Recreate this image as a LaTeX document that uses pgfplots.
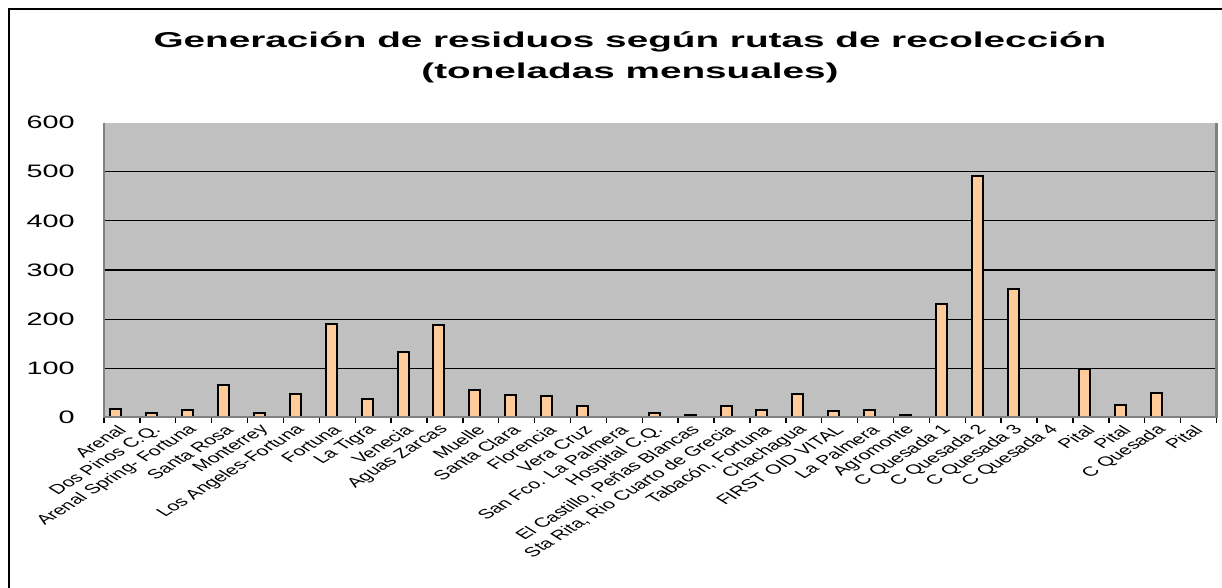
\documentclass[border=0pt]{standalone}
\usepackage{fontspec}
\setmainfont{Liberation Sans}
\newfontfamily\wide[FakeStretch=1.6]{Liberation Sans}
\newfontfamily\widetitle[FakeStretch=1.8]{Liberation Sans}
\usepackage{pgfplots}
\pgfplotsset{compat=1.18}
\definecolor{plotbg}{HTML}{C0C0C0}
\definecolor{barfill}{HTML}{FFCC99}
\definecolor{axgray}{HTML}{808080}
\begin{document}
\begin{tikzpicture}
\useasboundingbox (0,0) rectangle (611pt,294pt);
\fill[white] (0,0) rectangle (611pt,294pt);
\draw[black, line width=0.6pt] (4.5pt,0) -- (4.5pt,289.5pt) -- (611pt,289.5pt);
\node[anchor=base, font=\widetitle\bfseries\fontsize{10.75}{12}\selectfont, inner sep=0] at (315pt,270.15pt) {Generación de residuos según rutas de recolección};
\node[anchor=base, font=\widetitle\bfseries\fontsize{10.75}{12}\selectfont, inner sep=0] at (315pt,254.5pt) {(toneladas mensuales)};
\begin{axis}[
  at={(52pt,85.35pt)}, anchor=south west,
  scale only axis, width=556.25pt, height=147.3pt,
  xmin=-0.5, xmax=30.5, ymin=0, ymax=600,
  axis background/.style={fill=plotbg},
  axis line style={draw=none},
  ytick={0,100,200,300,400,500},
  extra y ticks={600}, extra y tick style={grid=none},
  ymajorgrids, grid style={black, line width=0.55pt},
  ytick style={draw=none},
  yticklabel style={font=\wide\fontsize{9}{9}\selectfont, anchor=east, inner sep=0pt, xshift=-14.5pt},
  /pgf/number format/assume math mode=true,
  xtick={-0.5,0.5,...,30.5},
  xticklabels={},
  xtick pos=bottom,
  xtick align=outside,
  major tick length=2.5pt,
  x tick style={draw=black, line width=0.6pt},
  extra x ticks={0,...,30},
  extra x tick style={major tick length=0pt},
  extra x tick labels={Arenal, Dos Pinos C.Q., Arenal Spring- Fortuna, Santa Rosa, Monterrey, Los Angeles-Fortuna, Fortuna, La Tigra, Venecia, Aguas Zarcas, Muelle, Santa Clara, Florencia, Vera Cruz, San Fco. La Palmera, Hospital C.Q., {El Castillo, Peñas Blancas}, {Sta Rita, Rio Cuarto de Grecia}, {Tabacón, Fortuna}, Chachagua, FIRST OID VITAL, La Palmera, Agromonte, C Quesada 1, C Quesada 2, C Quesada 3, C Quesada 4, Pital, Pital, C Quesada, Pital},
  xticklabel style={font=\fontsize{6.67}{7}\selectfont, xshift=1.25pt, yshift=-4.5pt, cm={1.131,0.707,-1.131,0.707,(0,0)}, anchor=east, inner sep=1pt},
  clip=false,
]
\addplot[ybar, bar width=5.5pt, bar shift=-3pt, fill=barfill, draw=black, line width=1pt] coordinates {
(0,16) (1,9) (2,14) (3,66) (4,9) (5,47) (6,189) (7,38) (8,133) (9,187)
(10,55) (11,46) (12,44) (13,24) (14,1) (15,9) (16,5) (17,24) (18,14) (19,48)
(20,13) (21,14) (22,5) (23,230) (24,491) (25,261) (27,98) (28,26) (29,49)
};
\draw[axgray, line width=1.2pt] (rel axis cs:0,1) -- (rel axis cs:0,0) -- (rel axis cs:1,0) -- (rel axis cs:1,1);
\pgfplotsinvokeforeach{0,...,31}{
  \draw[black, line width=0.7pt] ([yshift=-0.5pt]rel axis cs:#1/31,0) -- ([yshift=-3pt]rel axis cs:#1/31,0);
}
\end{axis}
\end{tikzpicture}
\end{document}
